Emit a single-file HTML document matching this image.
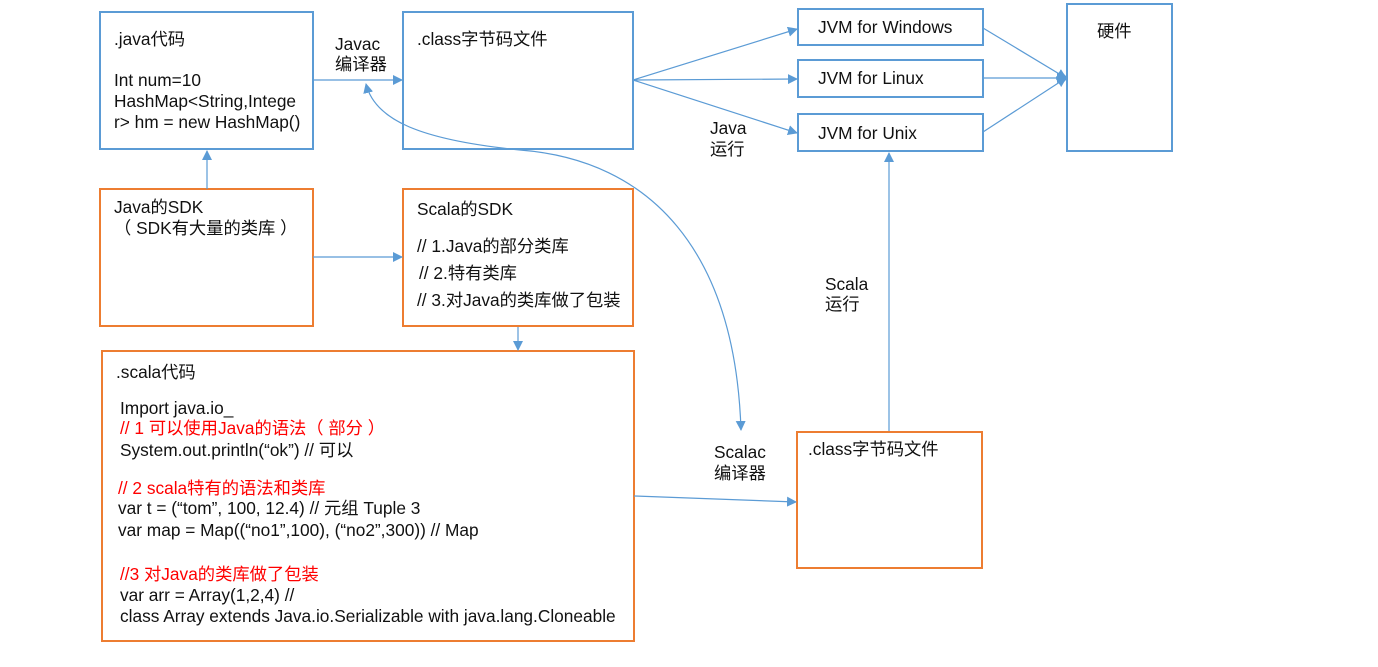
<!DOCTYPE html>
<html><head><meta charset="utf-8"><style>
body{margin:0;background:#fff;}
svg{display:block;}
text{font-family:"Liberation Sans","Noto Sans CJK SC",sans-serif;font-size:17.3px;fill:#111;}
.r{fill:#f00;}
</style></head><body>
<svg width="1378" height="667" viewBox="0 0 1378 667">
<defs>
<marker id="a" markerWidth="10" markerHeight="10" refX="9" refY="5" orient="auto-start-reverse" markerUnits="userSpaceOnUse">
<path d="M0,0 L10,5 L0,10 z" fill="#5b9bd5"/></marker>
</defs>
<g fill="none" stroke-width="2">
<rect x="100" y="12" width="213" height="137" stroke="#5b9bd5"/>
<rect x="403" y="12" width="230" height="137" stroke="#5b9bd5"/>
<rect x="100" y="189" width="213" height="137" stroke="#ed7d31"/>
<rect x="403" y="189" width="230" height="137" stroke="#ed7d31"/>
<rect x="102" y="351" width="532" height="290" stroke="#ed7d31"/>
<rect x="798" y="9" width="185" height="36" stroke="#5b9bd5"/>
<rect x="798" y="60" width="185" height="37" stroke="#5b9bd5"/>
<rect x="798" y="114" width="185" height="37" stroke="#5b9bd5"/>
<rect x="1067" y="4" width="105" height="147" stroke="#5b9bd5"/>
<rect x="797" y="432" width="185" height="136" stroke="#ed7d31"/>
</g>
<g stroke="#5b9bd5" stroke-width="1.2" fill="none" marker-end="url(#a)">
<line x1="313" y1="80" x2="402" y2="80"/>
<line x1="313" y1="257" x2="402" y2="257"/>
<line x1="207" y1="189" x2="207" y2="151"/>
<line x1="518" y1="327" x2="518" y2="350"/>
<line x1="633" y1="80" x2="797" y2="29"/>
<line x1="633" y1="80" x2="797" y2="79"/>
<line x1="633" y1="80" x2="797" y2="133"/>
<line x1="983" y1="28" x2="1066" y2="78"/>
<line x1="983" y1="78" x2="1066" y2="78"/>
<line x1="983" y1="132" x2="1066" y2="78"/>
<line x1="889" y1="431" x2="889" y2="153"/>
<line x1="634" y1="496" x2="796" y2="502"/>
<path d="M741,430 C735,250 650,160 520,150 C420,140 375,120 366,84" marker-start="url(#a)"/>
</g>
<path d="M1056,78 L1062,72 L1068,78 L1062,84 z" fill="#5b9bd5"/>
<text x="114" y="45">.java代码</text>
<text x="114" y="86">Int num=10</text>
<text x="114" y="107">HashMap&lt;String,Intege</text>
<text x="114" y="128">r&gt; hm = new HashMap()</text>
<text x="335" y="50">Javac</text>
<text x="335" y="70">编译器</text>
<text x="417" y="45">.class字节码文件</text>
<text x="114" y="213">Java的SDK</text>
<text x="114" y="234">（ SDK有大量的类库 ）</text>
<text x="417" y="215">Scala的SDK</text>
<text x="417" y="252">// 1.Java的部分类库</text>
<text x="419" y="279">// 2.特有类库</text>
<text x="417" y="306">// 3.对Java的类库做了包装</text>
<text x="818" y="33">JVM for Windows</text>
<text x="818" y="84">JVM for Linux</text>
<text x="818" y="139">JVM for Unix</text>
<text x="1097" y="37">硬件</text>
<text x="710" y="134">Java</text>
<text x="710" y="155">运行</text>
<text x="825" y="290">Scala</text>
<text x="825" y="310">运行</text>
<text x="714" y="458">Scalac</text>
<text x="714" y="479">编译器</text>
<text x="808" y="455">.class字节码文件</text>
<text x="116" y="378">.scala代码</text>
<text x="120" y="414">Import java.io_</text>
<text x="120" y="434" class="r">// 1 可以使用Java的语法（ 部分 ）</text>
<text x="120" y="456">System.out.println(“ok”)  // 可以</text>
<text x="118" y="494" class="r">// 2 scala特有的语法和类库</text>
<text x="118" y="514">var t = (“tom”, 100, 12.4) // 元组 Tuple 3</text>
<text x="118" y="536">var map = Map((“no1”,100), (“no2”,300))  // Map</text>
<text x="120" y="580" class="r">//3 对Java的类库做了包装</text>
<text x="120" y="601">var arr = Array(1,2,4) //</text>
<text x="120" y="622">class Array extends Java.io.Serializable with java.lang.Cloneable</text>
</svg>
</body></html>
